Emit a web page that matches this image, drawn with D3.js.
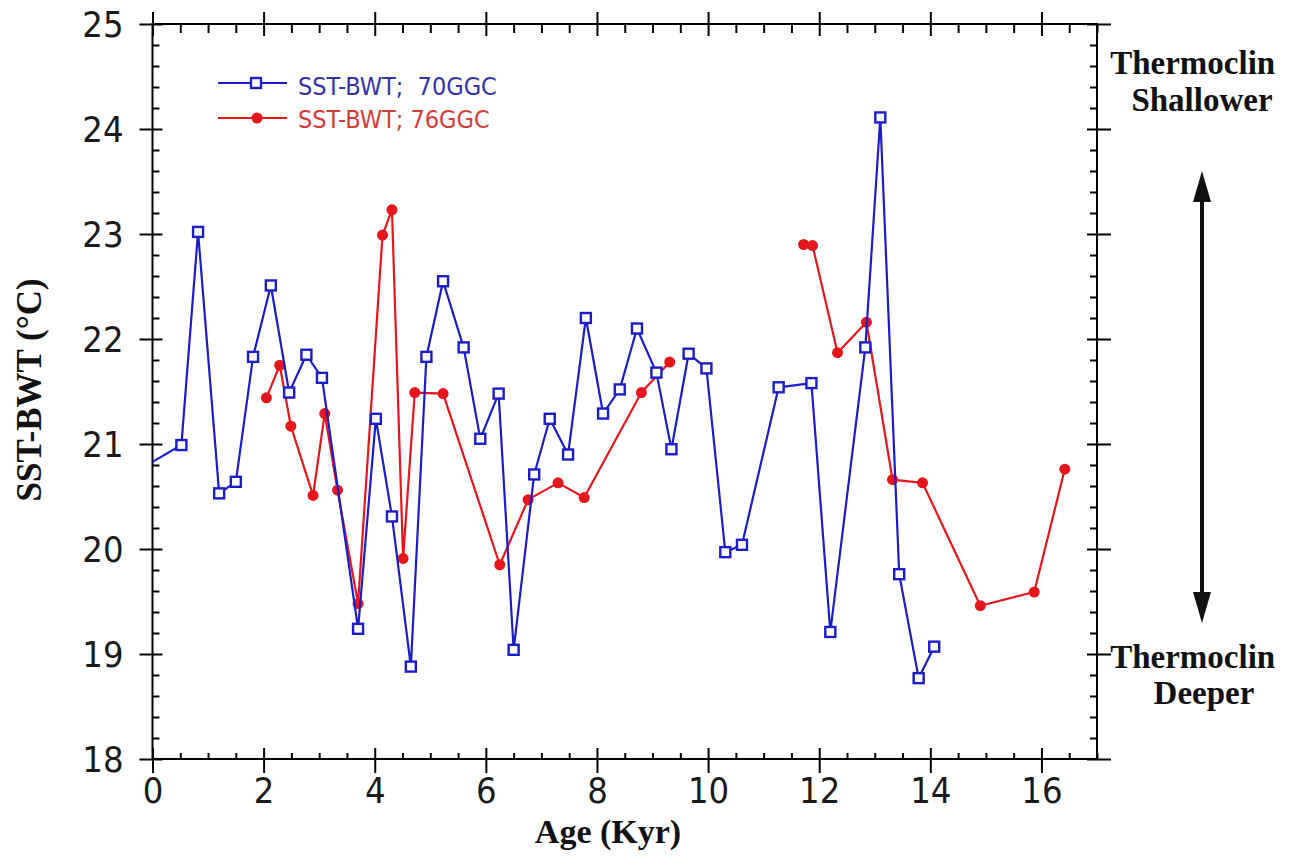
<!DOCTYPE html>
<html>
<head>
<meta charset="utf-8">
<script src="https://cdn.jsdelivr.net/npm/d3@7"></script>
<style>
  html, body { margin: 0; padding: 0; background: #fff; }
  svg { display: block; }
</style>
</head>
<body>
<svg id="chart" width="1293" height="859"></svg>
<script>
// ---------- data ----------
const ageTicks = [0, 2, 4, 6, 8, 10, 12, 14, 16];
const sstTicks = [18, 19, 20, 21, 22, 23, 24, 25];

// SST-BWT; 70GGC (blue, open squares)
const age70 = [0.0, 0.52, 0.82, 1.20, 1.50, 1.81, 2.13, 2.46, 2.77, 3.05, 3.70, 4.02, 4.31, 4.65, 4.93, 5.23, 5.60, 5.90,
               6.23, 6.50, 6.87, 7.15, 7.48, 7.80, 8.11, 8.41, 8.72, 9.07, 9.34, 9.65, 9.97, 10.31, 10.61, 11.27, 11.86,
               12.20, 12.83, 13.10, 13.44, 13.79, 14.07];
const sst70 = [20.83, 20.99, 23.02, 20.53, 20.64, 21.83, 22.51, 21.49, 21.85, 21.63, 19.24, 21.24, 20.31, 18.88, 21.83, 22.55, 21.92, 21.05,
               21.48, 19.04, 20.71, 21.24, 20.90, 22.20, 21.29, 21.52, 22.10, 21.68, 20.95, 21.86, 21.72, 19.97, 20.04, 21.54, 21.58,
               19.21, 21.92, 24.11, 19.76, 18.77, 19.07];

// SST-BWT; 76GGC (red, filled circles); null marks a gap in the record
const age76 = [2.05, 2.29, 2.49, 2.89, 3.10, 3.33, 3.70, 4.14, 4.31, 4.51, 4.72, 5.23, 6.25, 6.76, 7.30, 7.77, 8.80, 9.31,
               null,
               11.72, 11.88, 12.33, 12.85, 13.32, 13.86, 14.90, 15.87, 16.42];
const sst76 = [21.44, 21.75, 21.17, 20.51, 21.29, 20.56, 19.48, 22.99, 23.23, 19.91, 21.49, 21.48, 19.85, 20.47, 20.63, 20.49, 21.49, 21.78,
               null,
               22.90, 22.89, 21.87, 22.16, 20.66, 20.63, 19.46, 19.59, 20.76];

const legendLabels = ["SST-BWT;  70GGC", "SST-BWT; 76GGC"];
const sideLabelsTop = ["Thermocline", "Shallower"];
const sideLabelsBottom = ["Thermocline", "Deeper"];
const xTitle = "Age (Kyr)";
const yTitle = "SST-BWT (°C)";

// ---------- setup ----------
const BLUE = "#1c1cc8", BLUE_TXT = "#3434a8";
const RED = "#e5161c", RED_TXT = "#d43c3c";
const tickFont = "'DejaVu Sans Condensed', 'DejaVu Sans', sans-serif";
const serifFont = "'Liberation Serif', 'Times New Roman', serif";

const svg = d3.select("#chart");
svg.append("rect").attr("width", 1293).attr("height", 859).attr("fill", "#fff");

const x = d3.scaleLinear().domain([0, 17]).range([152.5, 1097]);
const y = d3.scaleLinear().domain([18, 25]).range([759, 24]);

const xMinor = d3.range(0, 17.01, 0.5).filter(v => Math.abs(v % 2) > 1e-9);
const yMinor = d3.range(18, 25.001, 0.2).filter(v => Math.abs(v - Math.round(v)) > 1e-6);

function styleAxis(g) {
  g.select(".domain").remove();
  g.selectAll(".tick line").attr("stroke", "#000").attr("stroke-width", 2);
}

// bottom axis
const gB = svg.append("g").attr("transform", `translate(0,${y(18)})`);
gB.call(d3.axisBottom(x).tickValues(ageTicks).tickSizeInner(14).tickSizeOuter(0).tickPadding(4).tickFormat(d3.format("d")))
  .call(styleAxis);
gB.selectAll("text").attr("font-family", tickFont).attr("font-size", 36).attr("fill", "#1a1a1a");
svg.append("g").attr("transform", `translate(0,${y(18)})`)
  .call(d3.axisBottom(x).tickValues(ageTicks).tickSize(-11).tickFormat(""))
  .call(styleAxis);
svg.append("g").attr("transform", `translate(0,${y(18)})`)
  .call(d3.axisBottom(x).tickValues(xMinor).tickSize(-6).tickFormat(""))
  .call(styleAxis);

// top axis
svg.append("g").attr("transform", `translate(0,${y(25)})`)
  .call(d3.axisTop(x).tickValues(ageTicks).tickSize(12).tickFormat(""))
  .call(styleAxis);
svg.append("g").attr("transform", `translate(0,${y(25)})`)
  .call(d3.axisTop(x).tickValues(ageTicks).tickSize(-12).tickFormat(""))
  .call(styleAxis);
svg.append("g").attr("transform", `translate(0,${y(25)})`)
  .call(d3.axisTop(x).tickValues(xMinor).tickSize(-9).tickFormat(""))
  .call(styleAxis);

// left axis
const gL = svg.append("g").attr("transform", `translate(${x(0)},0)`);
gL.call(d3.axisLeft(y).tickValues(sstTicks).tickSizeInner(13).tickSizeOuter(0).tickPadding(16).tickFormat(d3.format("d")))
  .call(styleAxis);
gL.selectAll("text").attr("font-family", tickFont).attr("font-size", 36).attr("fill", "#1a1a1a").attr("dy", "0.36em");
svg.append("g").attr("transform", `translate(${x(0)},0)`)
  .call(d3.axisLeft(y).tickValues(sstTicks).tickSize(-10).tickFormat(""))
  .call(styleAxis);
svg.append("g").attr("transform", `translate(${x(0)},0)`)
  .call(d3.axisLeft(y).tickValues(yMinor).tickSize(-7).tickFormat(""))
  .call(styleAxis);

// right axis
svg.append("g").attr("transform", `translate(${x(17)},0)`)
  .call(d3.axisRight(y).tickValues(sstTicks).tickSize(14).tickFormat(""))
  .call(styleAxis);
svg.append("g").attr("transform", `translate(${x(17)},0)`)
  .call(d3.axisRight(y).tickValues(sstTicks).tickSize(-10).tickFormat(""))
  .call(styleAxis);
svg.append("g").attr("transform", `translate(${x(17)},0)`)
  .call(d3.axisRight(y).tickValues(yMinor).tickSize(-7).tickFormat(""))
  .call(styleAxis);

// frame
svg.append("rect")
  .attr("x", x(0)).attr("y", y(25))
  .attr("width", x(17) - x(0)).attr("height", y(18) - y(25))
  .attr("fill", "none").attr("stroke", "#000").attr("stroke-width", 2);

// ---------- series ----------
const blue = age70.map((a, i) => ({ a, v: sst70[i] }));
const red = age76.map((a, i) => ({ a, v: sst76[i] }));

const line = d3.line()
  .defined(d => d.a !== null && d.v !== null)
  .x(d => x(d.a)).y(d => y(d.v));

svg.append("path").datum(red).attr("d", line)
  .attr("fill", "none").attr("stroke", RED).attr("stroke-width", 2.2).attr("stroke-linejoin", "round");

svg.append("g").selectAll("circle")
  .data(red.filter(d => d.a !== null))
  .join("circle")
  .attr("cx", d => x(d.a)).attr("cy", d => y(d.v))
  .attr("r", 5.5).attr("fill", RED);

svg.append("path").datum(blue).attr("d", line)
  .attr("fill", "none").attr("stroke", BLUE).attr("stroke-width", 2.2).attr("stroke-linejoin", "round");

const sq = 10;
svg.append("g").selectAll("rect")
  .data(blue.filter(d => d.a > 0))
  .join("rect")
  .attr("x", d => x(d.a) - sq / 2).attr("y", d => y(d.v) - sq / 2)
  .attr("width", sq).attr("height", sq)
  .attr("fill", "#fff").attr("stroke", BLUE).attr("stroke-width", 2.4);

// ---------- legend ----------
const lg = svg.append("g");
lg.append("line").attr("x1", 218).attr("x2", 287).attr("y1", 83).attr("y2", 83).attr("stroke", BLUE).attr("stroke-width", 2.2);
lg.append("rect").attr("x", 256 - sq / 2).attr("y", 83 - sq / 2).attr("width", sq).attr("height", sq)
  .attr("fill", "#fff").attr("stroke", BLUE).attr("stroke-width", 2.4);
lg.append("text").attr("x", 298).attr("y", 95).attr("font-family", tickFont).attr("font-size", 25)
  .attr("fill", BLUE_TXT).style("white-space", "pre").text(legendLabels[0]);
lg.append("line").attr("x1", 218).attr("x2", 287).attr("y1", 118).attr("y2", 118).attr("stroke", RED).attr("stroke-width", 2.2);
lg.append("circle").attr("cx", 257).attr("cy", 118).attr("r", 5.5).attr("fill", RED);
lg.append("text").attr("x", 298).attr("y", 128).attr("font-family", tickFont).attr("font-size", 25)
  .attr("fill", RED_TXT).style("white-space", "pre").text(legendLabels[1]);

// ---------- axis titles ----------
svg.append("text").attr("x", 608).attr("y", 843).attr("text-anchor", "middle")
  .attr("font-family", serifFont).attr("font-weight", "bold").attr("font-size", 34).attr("fill", "#111")
  .text(xTitle);
svg.append("text").attr("transform", "translate(41,390) rotate(-90)").attr("text-anchor", "middle")
  .attr("font-family", serifFont).attr("font-weight", "bold").attr("font-size", 35).attr("fill", "#111")
  .text(yTitle);

// ---------- right-side annotation (clipped at the right edge as in the source figure) ----------
svg.append("clipPath").attr("id", "sideClip")
  .append("rect").attr("x", 1100).attr("y", 0).attr("width", 176).attr("height", 859);
const side = svg.append("g").attr("clip-path", "url(#sideClip)")
  .attr("font-family", serifFont).attr("font-weight", "bold").attr("font-size", 33)
  .attr("fill", "#111").attr("text-anchor", "middle");
side.append("text").attr("x", 1200).attr("y", 74).text(sideLabelsTop[0]);
side.append("text").attr("x", 1202).attr("y", 111).text(sideLabelsTop[1]);
side.append("text").attr("x", 1200).attr("y", 668).text(sideLabelsBottom[0]);
side.append("text").attr("x", 1204).attr("y", 704).text(sideLabelsBottom[1]);

// double arrow
const ax = 1202;
svg.append("line").attr("x1", ax).attr("x2", ax).attr("y1", 198).attr("y2", 596)
  .attr("stroke", "#111").attr("stroke-width", 4);
svg.append("path").attr("d", `M${ax},171 L${ax - 9},202 L${ax + 9},202 Z`).attr("fill", "#111");
svg.append("path").attr("d", `M${ax},623 L${ax - 9},592 L${ax + 9},592 Z`).attr("fill", "#111");
</script>
</body>
</html>
